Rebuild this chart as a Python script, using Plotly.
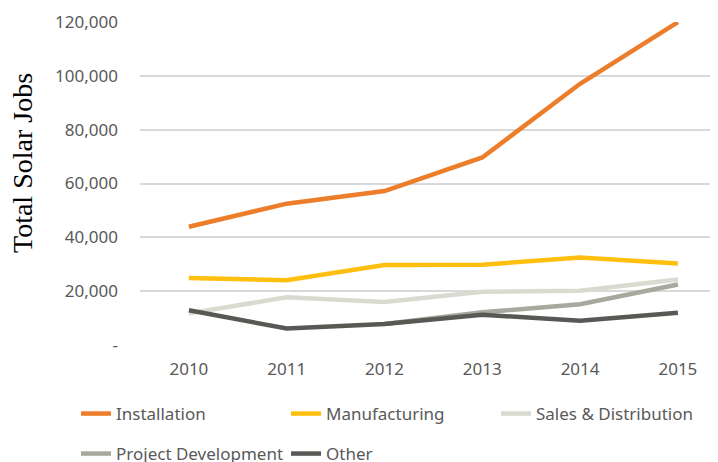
import plotly.graph_objects as go

years = ["2010", "2011", "2012", "2013", "2014", "2015"]
installation = [43934, 52503, 57177, 69658, 97031, 119931]
manufacturing = [24916, 24064, 29742, 29851, 32490, 30282]
sales = [11744, 17722, 16005, 19771, 20185, 24377]
project_dev = [None, None, 7795, 12169, 15112, 22452]
other = [12908, 6102, 7795, 11248, 9014, 11940]

y_ticks = [0, 20000, 40000, 60000, 80000, 100000, 120000]
y_ticktext = ["-", "20,000", "40,000", "60,000", "80,000", "100,000", "120,000"]

series = [
    ("Installation", installation, "#EC7D2B", "legend"),
    ("Manufacturing", manufacturing, "#FFBF0F", "legend"),
    ("Sales & Distribution", sales, "#DADAD0", "legend"),
    ("Project Development", project_dev, "#A8A89E", "legend2"),
    ("Other", other, "#585855", "legend2"),
]

fig = go.Figure()
for name, vals, color, lg in series:
    fig.add_trace(go.Scatter(x=years, y=vals, name=name, mode="lines",
                             line=dict(color=color, width=4.5),
                             legend=lg, connectgaps=False))

tick_font = dict(family="Noto Sans", size=17, color="#595959")
leg_font = dict(family="Noto Sans", size=17, color="#595959")

W, H = 710, 454
L, T, PW, PH = 132, 14, 578, 323

fig.update_layout(
    width=W, height=H,
    margin=dict(l=L, r=0, t=T, b=H - T - PH, autoexpand=False),
    paper_bgcolor="white", plot_bgcolor="white",
    showlegend=True,
    xaxis=dict(type="category", range=[-0.5, 5.41], showgrid=False,
               showline=False, zeroline=False, tickfont=tick_font,
               ticks="", ticklabelstandoff=12),
    yaxis=dict(range=[0, 120000], tickvals=y_ticks, ticktext=y_ticktext,
               showgrid=True, gridcolor="#D9D9D9", gridwidth=1.5,
               zeroline=False, showline=False, tickfont=tick_font,
               ticks="", ticklabelstandoff=21),
    legend=dict(orientation="h", x=(68 - L) / PW, y=(T + PH - 388) / PH,
                xanchor="left", yanchor="top",
                font=leg_font, itemwidth=30, entrywidth=165, entrywidthmode="pixels",
                bgcolor="rgba(0,0,0,0)"),
    legend2=dict(orientation="h", x=(68 - L) / PW, y=(T + PH - 428) / PH,
                 xanchor="left", yanchor="top",
                 font=leg_font, itemwidth=30, entrywidth=165, entrywidthmode="pixels",
                 bgcolor="rgba(0,0,0,0)"),
    annotations=[dict(text="Total Solar Jobs", textangle=-90, xref="paper", yref="paper",
                      x=(22 - 140) / 578, y=(345 - 163) / 323, xanchor="center",
                      yanchor="middle", showarrow=False,
                      font=dict(family="Liberation Serif", size=28, color="#000000"))],
)

fig.write_html("out.html")
